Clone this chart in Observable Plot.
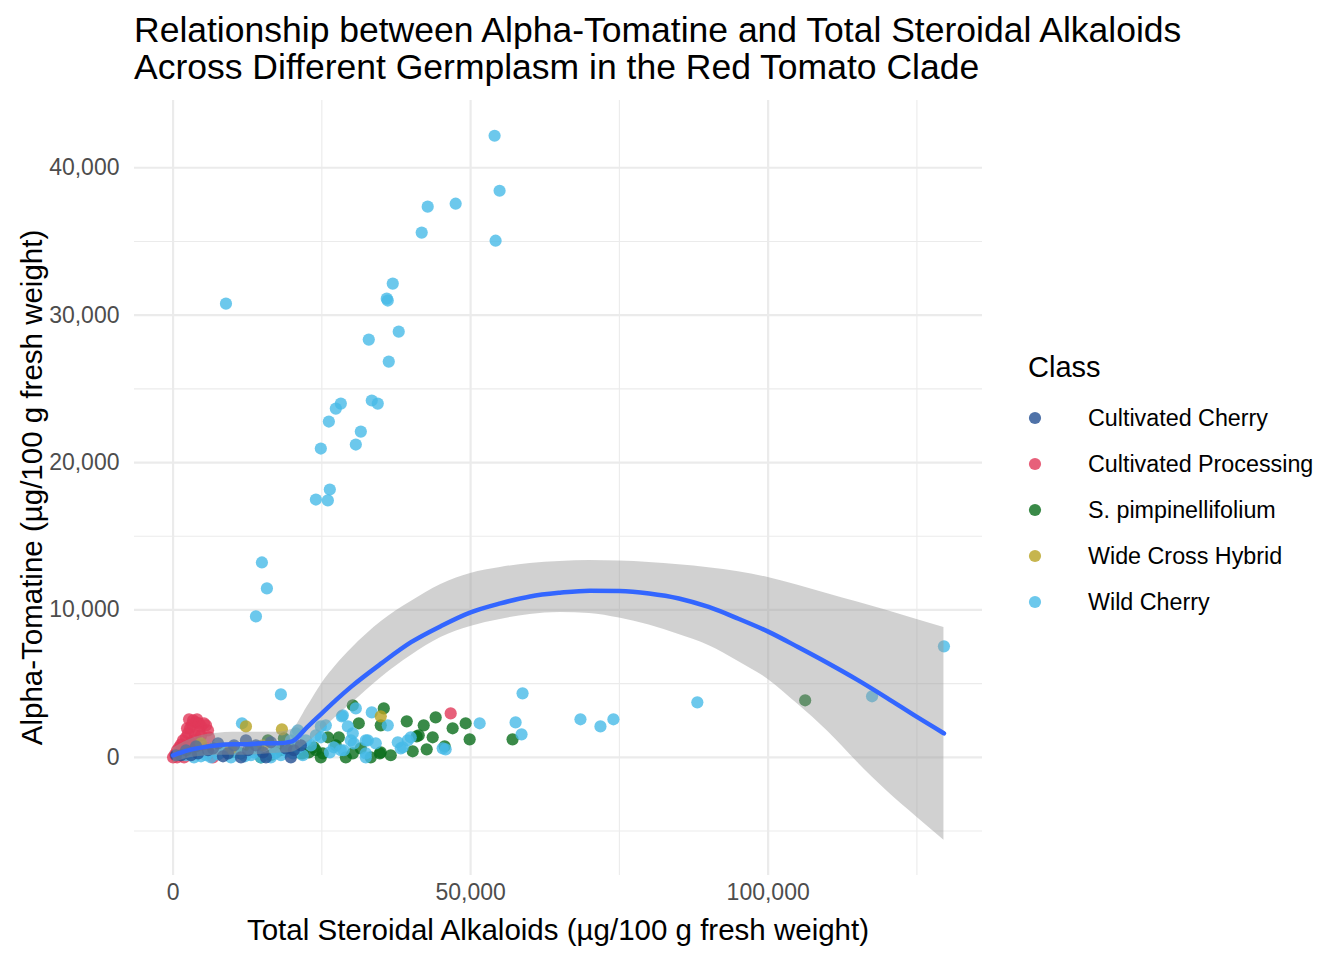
<!DOCTYPE html>
<html>
<head>
<meta charset="utf-8">
<script src="https://cdn.jsdelivr.net/npm/d3@7"></script>
<script src="https://cdn.jsdelivr.net/npm/@observablehq/plot@0.6"></script>
<style>
  html, body { margin: 0; padding: 0; background: #ffffff; }
  #chart { width: 1344px; height: 960px; }
</style>
</head>
<body>
<div id="chart"></div>
<script>
// ---- Data ----
const classes = ["Cultivated Cherry", "Cultivated Processing", "S. pimpinellifolium", "Wide Cross Hybrid", "Wild Cherry"];
const classColors = ["#234F92", "#E13859", "#096D1A", "#B8A222", "#47BAE7"];

const cherryX = [500, 1340, 3020, 4200, 5870, 7550, 9230, 10240, 12590, 13930, 15100, 16440, 18960, 21480, 15610, 11410, 6710, 8390, 2180, 3860, 19800, 20300, 12250];
const cherryY = [140, 140, 140, 270, 480, 950, 270, 810, 480, 810, 340, 1020, 610, 810, 0, 0, 610, 70, 480, 750, 0, 480, 1150];

const procX = [0, 340, 670, 1010, 1340, 1680, 2180, 2520, 2850, 3190, 3360, 2690, 4030, 3860, 4360, 4700, 5200, 5540, 5870, 4360, 3690, 6040, 3020, 4700, 2350, 5540, 3860, 6040, 6710, 1340, 670, 1850, 1680, 2690, 3520, 2350, 4700, 46650];
const procY = [0, 200, 480, 680, 880, 1150, 1360, 1630, 1970, 2240, 2510, 2580, 2580, 2370, 2310, 2100, 2310, 2170, 1830, 1700, 1490, 1360, 1020, 810, 610, 610, 410, 270, 0, 340, 0, 0, 480, 810, 1150, 1970, 1490, 2980];

const pimpX = [30200, 35410, 34900, 31210, 26010, 27860, 34900, 30200, 25170, 22820, 24000, 21810, 39270, 42120, 44130, 41280, 43630, 40940, 40270, 42620, 45640, 46980, 49170, 49840, 57050, 106220, 15940, 14260, 11410, 23660, 21480, 34740, 18120, 19800, 24830, 29030, 16440, 9730, 13090, 33220, 36580, 14770, 27350, 31550, 18630, 17280];
const pimpY = [3530, 3320, 2170, 2310, 1360, 1360, 340, 270, 270, 340, 480, 270, 2440, 2170, 2710, 1490, 1360, 1420, 410, 540, 750, 1970, 2310, 1220, 1220, 3870, 1150, 680, 270, 680, 270, 270, 480, 610, 0, 0, 140, 340, 610, 0, 140, 0, 810, 610, 1290, 340];

const wideX = [12250, 18290, 34900, 4700, 9730, 15100];
const wideY = [2100, 1900, 2780, 950, 610, 810];

const wildX = [11580, 18120, 58730, 58560, 57560, 51520, 45810, 37760, 39430, 38260, 38590, 39940, 45310, 36080, 33390, 30710, 28530, 29370, 25670, 24830, 30200, 30370, 32390, 34060, 32390, 28690, 27020, 21140, 20640, 19800, 20140, 16950, 13590, 10240, 8560, 18120, 14770, 9730, 6380, 32390, 32720, 28190, 29870, 68460, 71820, 74000, 88100, 117460, 129540, 22320, 23160, 24000, 4700, 13090, 16440, 28360, 24830, 20980, 2180,
  54030, 54870, 47490, 42790, 41780, 54200, 8890, 36920, 35910, 36080, 37920, 32890, 36250, 28190, 27350, 26180, 24830, 33390, 34400, 31550, 30710, 26340, 24000, 26010, 14930, 15770, 13930,
  5540, 7550, 8890, 11070, 12080, 14090, 17120, 19130, 3520, 21810, 26350];
const wildY = [2310, 4270, 4340, 1560, 2370, 2310, 540, 1020, 1150, 610, 680, 1360, 610, 2170, 3050, 3320, 2850, 2100, 2170, 1360, 1630, 950, 1150, 950, 270, 480, 680, 680, 1630, 1150, 270, 680, 340, 680, 610, 140, 0, 0, 0, 0, 1150, 480, 1150, 2580, 2100, 2580, 3730, 4140, 7530, 1150, 810, 1490, 70, 140, 0, 2780, 2100, 1830, 140,
  42170, 38440, 37560, 37360, 35600, 35050, 30780, 32140, 31120, 30990, 28880, 28340, 26850, 24000, 23660, 22780, 20950, 24210, 24000, 22100, 21220, 18170, 17490, 17430, 13220, 11460, 9560,
  140, 200, 410, 300, 70, 480, 270, 410, 0, 140, 340];

// smooth fit
const smoothX = [0, 2500, 5000, 7500, 10000, 12500, 15000, 17500, 20000, 22500, 25000, 27500, 30000, 35000, 40000, 45000, 50000, 55000, 60000, 65000, 70000, 75000, 80000, 85000, 90000, 95000, 100000, 105000, 110000, 115000, 120000, 125000, 129540];
const smoothFit = [136, 475, 678, 814, 881, 881, 949, 949, 1085, 2034, 2983, 3932, 4814, 6373, 7810, 8900, 9831, 10441, 10916, 11166, 11310, 11290, 11120, 10780, 10200, 9400, 8529, 7485, 6400, 5254, 4020, 2739, 1627];
const smoothHi = [610, 1153, 1492, 1627, 1695, 1695, 1695, 1695, 1898, 3390, 5017, 6305, 7390, 9221, 10577, 11729, 12475, 12882, 13153, 13289, 13357, 13320, 13221, 13060, 12860, 12590, 12204, 11680, 11100, 10540, 9967, 9356, 8814];
const smoothLo = [-407, -68, 68, 136, 136, 136, 203, 271, 339, 949, 1831, 2780, 3661, 5424, 6916, 8136, 8882, 9356, 9695, 9831, 9763, 9450, 8980, 8339, 7594, 6509, 5288, 3593, 1763, -339, -2305, -4068, -5627];

// ticks / gridlines
const xMajor = [0, 50000, 100000];
const xMinor = [25000, 75000, 125000];
const yMajor = [0, 10000, 20000, 30000, 40000];
const yMinor = [-5000, 5000, 15000, 25000, 35000];

const titleLines = ["Relationship between Alpha-Tomatine and Total Steroidal Alkaloids", "Across Different Germplasm in the Red Tomato Clade"];
const xTitle = "Total Steroidal Alkaloids (µg/100 g fresh weight)";
const yTitle = "Alpha-Tomatine (µg/100 g fresh weight)";
const legendTitle = "Class";

// ---- Build tables ----
function zip(cls, xs, ys) { return xs.map((x, i) => ({x, y: ys[i], cls})); }
const points = [].concat(
  zip("Cultivated Processing", procX, procY),
  zip("S. pimpinellifolium", pimpX, pimpY),
  zip("Wild Cherry", wildX, wildY),
  zip("Wide Cross Hybrid", wideX, wideY),
  zip("Cultivated Cherry", cherryX, cherryY)
);
const smooth = smoothX.map((x, i) => ({x, fit: smoothFit[i], lo: smoothLo[i], hi: smoothHi[i]}));

const FONT = "'Liberation Sans', Arial, Helvetica, sans-serif";
const grid = "#EBEBEB";

const svg = Plot.plot({
  width: 1344,
  height: 960,
  marginLeft: 134,
  marginRight: 362,
  marginTop: 100,
  marginBottom: 85,
  style: {fontFamily: FONT, background: "#ffffff", overflow: "visible"},
  x: {domain: [-6480, 136020]},
  y: {domain: [-8017, 44562]},
  color: {domain: classes, range: classColors},
  marks: [
    Plot.ruleX(xMinor, {stroke: grid, strokeWidth: 1.1}),
    Plot.ruleY(yMinor, {stroke: grid, strokeWidth: 1.1}),
    Plot.ruleX(xMajor, {stroke: grid, strokeWidth: 2.2}),
    Plot.ruleY(yMajor, {stroke: grid, strokeWidth: 2.2}),
    Plot.dot(points, {x: "x", y: "y", fill: "cls", r: 6.1, fillOpacity: 0.8, stroke: "none"}),
    Plot.areaY(smooth, {x: "x", y1: "lo", y2: "hi", fill: "#999999", fillOpacity: 0.45, curve: "monotone-x"}),
    Plot.line(smooth, {x: "x", y: "fit", stroke: "#3366FF", strokeWidth: 4.5, curve: "monotone-x"}),
    Plot.axisX({ticks: xMajor, tickSize: 0, tickPadding: 8, tickFormat: d3.format(","), fontSize: 23, color: "#4D4D4D", label: null}),
    Plot.axisY({ticks: yMajor, tickSize: 0, tickPadding: 15, tickFormat: d3.format(","), fontSize: 23, color: "#4D4D4D", label: null})
  ]
});

const s = d3.select(svg);
// Title
titleLines.forEach((t, i) => {
  s.append("text").attr("x", 134).attr("y", 42 + i * 37).attr("text-anchor", "start")
    .attr("font-family", FONT).attr("font-size", 35.5).attr("fill", "#000").text(t);
});
// Axis titles
s.append("text").attr("x", 558).attr("y", 940).attr("text-anchor", "middle")
  .attr("font-family", FONT).attr("font-size", 29.5).attr("fill", "#000").text(xTitle);
s.append("text").attr("transform", "translate(42,487.5) rotate(-90)").attr("text-anchor", "middle")
  .attr("font-family", FONT).attr("font-size", 29.5).attr("fill", "#000").text(yTitle);
// Legend
s.append("text").attr("x", 1028).attr("y", 377).attr("text-anchor", "start")
  .attr("font-family", FONT).attr("font-size", 29).attr("fill", "#000").text(legendTitle);
classes.forEach((c, i) => {
  const cy = 418 + i * 46;
  s.append("circle").attr("cx", 1035).attr("cy", cy).attr("r", 6.1)
    .attr("fill", classColors[i]).attr("fill-opacity", 0.8);
  s.append("text").attr("x", 1088).attr("y", cy).attr("dy", "0.35em").attr("text-anchor", "start")
    .attr("font-family", FONT).attr("font-size", 23.3).attr("fill", "#000").text(c);
});

document.getElementById("chart").appendChild(svg);
</script>
</body>
</html>
